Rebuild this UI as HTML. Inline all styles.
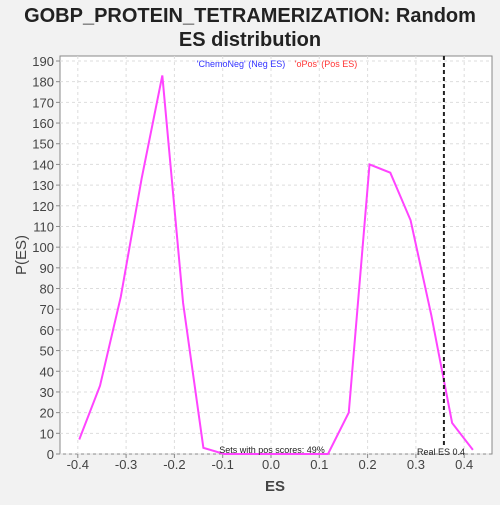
<!DOCTYPE html>
<html><head><meta charset="utf-8"><style>
body{margin:0;background:#f2f2f2;font-family:"Liberation Sans",sans-serif}
</style></head><body>
<svg width="500" height="500" xmlns="http://www.w3.org/2000/svg">
<rect width="500" height="500" fill="#f2f2f2"/>
<text x="250" y="22" text-anchor="middle" font-size="20" font-weight="bold" fill="#222">GOBP_PROTEIN_TETRAMERIZATION: Random</text>
<text x="250" y="46" text-anchor="middle" font-size="20" font-weight="bold" fill="#222">ES distribution</text>
<rect x="60" y="56" width="432" height="398" fill="#fff" stroke="#888"/>
<g id="grid"></g><g id="axes"></g><g id="series"></g>
<text x="241" y="67" text-anchor="middle" font-size="9" fill="#3333ff">'ChemoNeg' (Neg ES)</text>
<text x="326" y="67" text-anchor="middle" font-size="9" fill="#ff3333">'oPos' (Pos ES)</text>
<text x="272" y="453" text-anchor="middle" font-size="9" fill="#222">Sets with pos scores: 49%</text>
<text x="441" y="455" text-anchor="middle" font-size="9" fill="#222">Real ES 0.4</text>
<text x="275" y="491" text-anchor="middle" font-size="15" font-weight="bold" fill="#444">ES</text>
<text x="26" y="255" text-anchor="middle" font-size="15" fill="#444" transform="rotate(-90 26 255)">P(ES)</text>
</svg>
<script>
const xs=[-0.397,-0.354,-0.311,-0.268,-0.225,-0.182,-0.140,-0.097,-0.054,-0.011,0.032,0.075,0.118,0.161,0.204,0.247,0.289,0.332,0.375,0.418];
const ys=[7,33,76,133,183,73,3,0,0,0,0,0,0,20,140,136,113,67,15,2];
const xTicks=[-0.4,-0.3,-0.2,-0.1,0.0,0.1,0.2,0.3,0.4];
const yTicks=[0,10,20,30,40,50,60,70,80,90,100,110,120,130,140,150,160,170,180,190];
const realES=[0.358];
const X=v=>271+v*483, Y=v=>454-v*393/190;
const ns="http://www.w3.org/2000/svg";
function mk(t,a,p){const e=document.createElementNS(ns,t);for(const k in a)e.setAttribute(k,a[k]);document.getElementById(p).appendChild(e);return e;}
xTicks.forEach(t=>{
 const g=mk('line',{x1:X(t),x2:X(t),y1:56,y2:454,stroke:'#ddd','stroke-dasharray':'3,3'},'grid');
 
 
 const tk=mk('line',{x1:X(t),x2:X(t),y1:454,y2:458,stroke:'#888'},'axes');
 
 
 const l=mk('text',{x:X(t),y:469,'text-anchor':'middle','font-size':13,fill:'#444'},'axes');
 l.textContent=t.toFixed(1);
 
 
});
yTicks.forEach(t=>{
 const g=mk('line',{x1:60,x2:492,y1:Y(t),y2:Y(t),stroke:'#ddd','stroke-dasharray':'3,3'},'grid');
 
 
 const tk=mk('line',{x1:56,x2:60,y1:Y(t),y2:Y(t),stroke:'#888'},'axes');
 
 
 const l=mk('text',{x:54,y:Y(t)+5,'text-anchor':'end','font-size':13,fill:'#444'},'axes');
 l.textContent=t;
 
 
});
const p=mk('polyline',{points:xs.map((x,i)=>X(x)+','+Y(ys[i])).join(' '),fill:'none',stroke:'#ff44ff','stroke-width':2},'series');


realES.forEach(v=>{
 const r=mk('line',{x1:X(v),x2:X(v),y1:56,y2:446,stroke:'#222','stroke-width':2,'stroke-dasharray':'4,3'},'series');
 
 
});
</script>
</body></html>
